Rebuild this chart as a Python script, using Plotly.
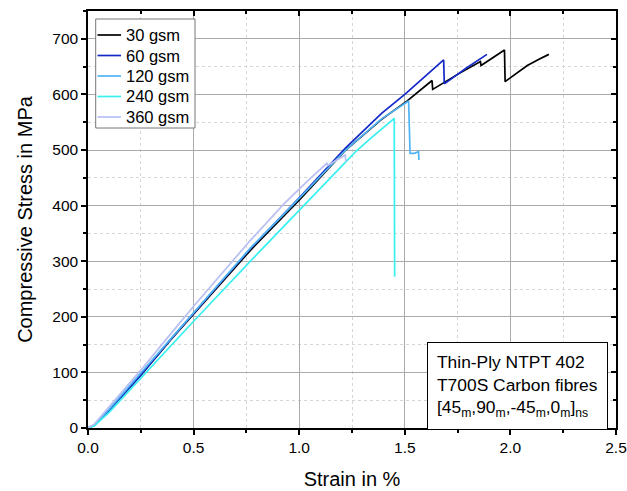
import plotly.graph_objects as go

# ---- data (strain in %, stress in MPa) ----
strain_30 = [0.0, 0.03, 0.1, 0.25, 0.39, 0.5, 0.77, 1.0, 1.22, 1.39, 1.51, 1.629, 1.632, 1.75, 1.858, 1.861, 1.972, 1.975, 2.02, 2.08, 2.14, 2.182]
stress_30 = [0, 5, 32, 95, 158, 205, 320, 410, 500, 555, 588, 625, 609, 636, 659, 652, 680, 623, 636, 652, 664, 672]

strain_60 = [0.0, 0.03, 0.1, 0.25, 0.39, 0.5, 0.77, 1.0, 1.22, 1.39, 1.5, 1.684, 1.687, 1.79, 1.889]
stress_60 = [0, 5, 31, 95, 159, 207, 323, 414, 504, 566, 600, 662, 619, 647, 672]

strain_120 = [0.0, 0.03, 0.1, 0.25, 0.39, 0.5, 0.77, 1.0, 1.22, 1.39, 1.486, 1.518, 1.525, 1.545, 1.565, 1.567]
stress_120 = [0, 6, 34, 99, 161, 209, 324, 413, 500, 556, 581, 588, 494, 494, 497, 482]

strain_240 = [0.0, 0.03, 0.1, 0.25, 0.414, 0.5, 0.819, 1.0, 1.15, 1.265, 1.33, 1.39, 1.45, 1.452]
stress_240 = [0, 4, 28, 90, 158, 192, 320, 392, 452, 496, 518, 538, 557, 272]

strain_360 = [0.0, 0.03, 0.1, 0.25, 0.367, 0.5, 0.77, 0.93, 1.05, 1.131, 1.135, 1.218, 1.221]
stress_360 = [0, 7, 38, 104, 158, 219, 338, 404, 448, 476, 472, 491, 479]

names = ["30 gsm", "60 gsm", "120 gsm", "240 gsm", "360 gsm"]
strains = [strain_30, strain_60, strain_120, strain_240, strain_360]
stresses = [stress_30, stress_60, stress_120, stress_240, stress_360]
colors = ["#000000", "#1428c8", "#50b4f5", "#38f0f0", "#b9bff2"]

x_range = [0, 2.5]
y_range = [0, 750]
font_family = "Arial, Liberation Sans, sans-serif"

W, H = 627, 491
ML, MR, MT, MB = 88, 11, 11, 63
PW = W - ML - MR
PH = H - MT - MB


def px_x(px):
    return (px - ML) / PW


def px_y(py):
    return (H - MB - py) / PH


fig = go.Figure()
for name, xs, ys, col in zip(names, strains, stresses, colors):
    fig.add_trace(go.Scatter(x=xs, y=ys, mode="lines", name=name,
                             line=dict(color=col, width=1.7)))

# invisible trace to create the mirrored (inward-tick) axes
fig.add_trace(go.Scatter(x=[0], y=[0], xaxis="x2", yaxis="y2", mode="lines",
                         showlegend=False, hoverinfo="skip", opacity=0))

tickfont = dict(family=font_family, size=15.5, color="black")
fig.update_layout(
    width=W, height=H, autosize=False,
    margin=dict(l=ML, r=MR, t=MT, b=MB),
    paper_bgcolor="white", plot_bgcolor="white",
    font=dict(family=font_family, color="black"),
    showlegend=False,
    xaxis=dict(range=x_range, dtick=0.5, tickformat=".1f", automargin=False,
               showline=True, linecolor="black", linewidth=1.5,
               ticks="outside", ticklen=5, tickwidth=1.5, tickcolor="black",
               showgrid=True, gridcolor="#ababab", gridwidth=1,
               zeroline=False, tickfont=tickfont,
               minor=dict(dtick=0.25, ticks="outside", ticklen=3, tickwidth=1.5,
                          tickcolor="black", showgrid=True, gridcolor="#d6d6d6",
                          griddash="dot", gridwidth=1),
               title=dict(text="Strain in %", font=dict(family=font_family, size=20),
                          standoff=17)),
    yaxis=dict(range=y_range, dtick=100, automargin=False,
               showline=True, linecolor="black", linewidth=1.5,
               ticks="outside", ticklen=5, tickwidth=1.5, tickcolor="black",
               showgrid=True, gridcolor="#ababab", gridwidth=1,
               zeroline=False, tickfont=tickfont,
               minor=dict(dtick=50, ticks="outside", ticklen=3, tickwidth=1.5,
                          tickcolor="black", showgrid=True, gridcolor="#d6d6d6",
                          griddash="dot", gridwidth=1),
               title=dict(text="Compressive Stress in MPa",
                          font=dict(family=font_family, size=20), standoff=14)),
    xaxis2=dict(range=x_range, overlaying="x", side="top", dtick=0.5, automargin=False,
                showline=True, linecolor="black", linewidth=1.5,
                ticks="inside", ticklen=5, tickwidth=1.5, tickcolor="black",
                showticklabels=False, showgrid=False, zeroline=False,
                minor=dict(dtick=0.25, ticks="inside", ticklen=3, tickwidth=1.5,
                           tickcolor="black", showgrid=False)),
    yaxis2=dict(range=y_range, overlaying="y", side="right", dtick=100, automargin=False,
                showline=True, linecolor="black", linewidth=1.5,
                ticks="inside", ticklen=5, tickwidth=1.5, tickcolor="black",
                showticklabels=False, showgrid=False, zeroline=False,
                minor=dict(dtick=50, ticks="inside", ticklen=3, tickwidth=1.5,
                           tickcolor="black", showgrid=False)),
)

# ---- legend box (drawn as shapes + text) ----
fig.add_shape(type="rect", xref="paper", yref="paper",
              x0=px_x(95.7), x1=px_x(195), y0=px_y(128), y1=px_y(19),
              line=dict(color="#777777", width=1), fillcolor="white", layer="above")
for i, (name, col) in enumerate(zip(names, colors)):
    yy = 35 + 20.5 * i
    fig.add_shape(type="line", xref="paper", yref="paper",
                  x0=px_x(97.5), x1=px_x(121), y0=px_y(yy), y1=px_y(yy),
                  line=dict(color=col, width=1.7), layer="above")
    fig.add_annotation(xref="paper", yref="paper", x=px_x(124), y=px_y(yy),
                       xanchor="left", yanchor="middle", text=name, showarrow=False,
                       font=dict(family=font_family, size=16.5, color="black"))

fig.add_annotation(
    xref="paper", yref="paper", x=px_x(427), y=px_y(342), xanchor="left", yanchor="top",
    text="Thin-Ply NTPT 402<br>T700S Carbon fibres<br>[45<sub>m</sub>,90<sub>m</sub>,-45<sub>m</sub>,0<sub>m</sub>]<sub>ns</sub>",
    showarrow=False, align="left",
    font=dict(family=font_family, size=17.4, color="black"),
    bgcolor="white", bordercolor="black", borderwidth=1, borderpad=9,
)

fig.write_html("out.html")
